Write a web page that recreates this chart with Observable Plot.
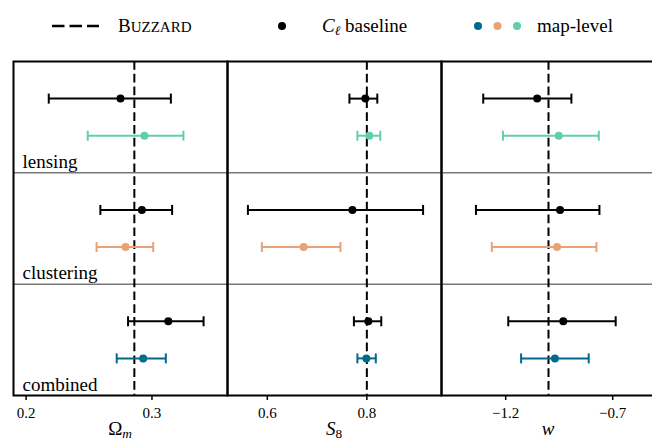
<!DOCTYPE html>
<html><head><meta charset="utf-8">
<script src="https://cdn.jsdelivr.net/npm/d3@7"></script>
<script src="https://cdn.jsdelivr.net/npm/@observablehq/plot@0.6"></script>
<style>
html,body{margin:0;padding:0;background:#fff;}
body{width:652px;height:445px;overflow:hidden;position:relative;font-family:'Liberation Serif';color:#000;}
.panel{position:absolute;top:0;}
.panel svg{background:transparent !important;overflow:visible !important;max-width:none !important;}
.panel g[aria-label="x-axis tick"] path{stroke-width:1.5;}
.xlabel{position:absolute;top:418px;font-size:19px;line-height:22px;transform:translateX(-50%);white-space:nowrap;}
.leg{position:absolute;top:14px;font-size:19px;line-height:24px;white-space:nowrap;}
.legsvg{position:absolute;top:0;left:0;}
sub{font-size:70%;vertical-align:-0.22em;line-height:0;}
</style>
</head><body>
<div id="chart"></div>
<script>
// ---- data ----
const rows = ["lensing", "clustering", "combined"];
const paramLabels = ["Ω<sub><i>m</i></sub>", "<i>S</i><sub>8</sub>", "<i>w</i>"];
const truthValues = [0.286, 0.8, -1.0];
const tickValues = [[0.2, 0.3], [0.6, 0.8], [-1.2, -0.7]];

const omBaseMid  = [0.275, 0.292, 0.313];
const omBaseLo   = [0.218, 0.259, 0.281];
const omBaseHi   = [0.315, 0.316, 0.341];
const omMapMid   = [0.294, 0.279, 0.293];
const omMapLo    = [0.249, 0.256, 0.272];
const omMapHi    = [0.325, 0.301, 0.311];

const s8BaseMid  = [0.797, 0.771, 0.803];
const s8BaseLo   = [0.765, 0.561, 0.774];
const s8BaseHi   = [0.821, 0.913, 0.829];
const s8MapMid   = [0.805, 0.673, 0.799];
const s8MapLo    = [0.781, 0.589, 0.781];
const s8MapHi    = [0.827, 0.747, 0.818];

const wBaseMid   = [-1.053, -0.946, -0.931];
const wBaseLo    = [-1.305, -1.339, -1.188];
const wBaseHi    = [-0.893, -0.762, -0.686];
const wMapMid    = [-0.952, -0.960, -0.970];
const wMapLo     = [-1.213, -1.265, -1.128];
const wMapHi     = [-0.765, -0.776, -0.812];

const mapColors = ["#62cfac", "#e9a176", "#006a8c"];
const baseColor = "#000000";

// ---- layout ----
const FONT = "'Liberation Serif'";
const panelLeft = [13, 227, 441];
const panelRight = [227, 441, 655];
const xDomains = [[0.19, 0.36], [0.52, 0.95], [-1.5, -0.5]];
const seriesOffset = {baseline: 1 / 3, map: 2 / 3};
const pad = 20;

const allData = [
  [omBaseMid, omBaseLo, omBaseHi, omMapMid, omMapLo, omMapHi],
  [s8BaseMid, s8BaseLo, s8BaseHi, s8MapMid, s8MapLo, s8MapHi],
  [wBaseMid, wBaseLo, wBaseHi, wMapMid, wMapLo, wMapHi]
];

const capSymbol = {
  draw(ctx, size) {
    const h = Math.sqrt(size / Math.PI);
    ctx.moveTo(0, -h);
    ctx.lineTo(0, h);
  }
};
const fmt = d => (d < 0 ? "\u2212" : "") + String(Math.abs(d));

const chart = document.getElementById("chart");

allData.forEach((arrs, j) => {
  const [bm, bl, bh, mm, ml, mh] = arrs;
  const recs = [];
  rows.forEach((r, i) => {
    recs.push({row: r, y: i + seriesOffset.baseline, mid: bm[i], lo: bl[i], hi: bh[i], color: baseColor});
    recs.push({row: r, y: i + seriesOffset.map, mid: mm[i], lo: ml[i], hi: mh[i], color: mapColors[i]});
  });
  const w = panelRight[j] - panelLeft[j];
  const marks = [
    Plot.ruleY([1, 2], {stroke: "#333", strokeWidth: 1}),
    Plot.ruleX([truthValues[j]], {stroke: "#000", strokeWidth: 2, strokeDasharray: "8.7,4.1"}),
    Plot.link(recs, {x1: "lo", x2: "hi", y1: "y", y2: "y", stroke: "color", strokeWidth: 2}),
    Plot.dot(recs, {x: "lo", y: "y", symbol: capSymbol, r: 5, stroke: "color", strokeWidth: 2, fill: "none"}),
    Plot.dot(recs, {x: "hi", y: "y", symbol: capSymbol, r: 5, stroke: "color", strokeWidth: 2, fill: "none"}),
    Plot.dot(recs, {x: "mid", y: "y", r: 4, fill: "color", stroke: "none"})
  ];
  if (j === 0) {
    marks.push(Plot.text(rows, {
      y: (d, i) => i + 1, text: d => d, frameAnchor: "left",
      textAnchor: "start", lineAnchor: "bottom", dx: 9, dy: -5,
      fontSize: 19, fill: "#000", fontFamily: FONT
    }));
  }
  marks.push(Plot.frame({stroke: "#000", strokeWidth: 2}));

  const plot = Plot.plot({
    width: w + 2 * pad,
    height: 425,
    marginLeft: pad,
    marginRight: pad,
    marginTop: 61,
    marginBottom: 30,
    x: {domain: xDomains[j], ticks: tickValues[j], tickFormat: fmt, tickSize: 5, tickPadding: 7, label: null},
    y: {domain: [0, 3], reverse: true, axis: null},
    color: {type: "identity"},
    style: {fontFamily: FONT, fontSize: "15px", background: "transparent", overflow: "visible", color: "#000"},
    marks
  });
  d3.select(plot).style("font-family", FONT, "important");
  d3.select(plot).selectAll("text").attr("font-family", FONT).style("font-family", FONT);
  const div = document.createElement("div");
  div.className = "panel";
  div.style.left = (panelLeft[j] - pad) + "px";
  div.style.width = (w + 2 * pad) + "px";
  div.appendChild(plot);
  chart.appendChild(div);

  const lab = document.createElement("div");
  lab.className = "xlabel";
  lab.style.left = ((panelLeft[j] + panelRight[j]) / 2) + "px";
  lab.style.fontFamily = FONT;
  lab.innerHTML = paramLabels[j];
  chart.appendChild(lab);
});

// ---- legend ----
const legSvg = d3.select(chart).append("svg").attr("class", "legsvg").attr("width", 652).attr("height", 50);
legSvg.append("line").attr("x1", 52).attr("x2", 99).attr("y1", 26).attr("y2", 26)
  .attr("stroke", "#000").attr("stroke-width", 2.5).attr("stroke-dasharray", "12.5,5");
legSvg.append("circle").attr("cx", 282).attr("cy", 26).attr("r", 4).attr("fill", baseColor);
[mapColors[2], mapColors[1], mapColors[0]].forEach((c, k) => {
  legSvg.append("circle").attr("cx", 478 + k * 19.5).attr("cy", 26).attr("r", 4).attr("fill", c);
});
const legItems = [
  {x: 118, html: 'B<span style="font-size:15px">UZZARD</span>'},
  {x: 322, html: '<i>C</i><sub><i>ℓ</i></sub> baseline'},
  {x: 537, html: 'map-level'}
];
legItems.forEach(it => {
  const d = document.createElement("div");
  d.className = "leg";
  d.style.left = it.x + "px";
  d.style.fontFamily = FONT;
  d.innerHTML = it.html;
  chart.appendChild(d);
});
</script>
</body></html>
